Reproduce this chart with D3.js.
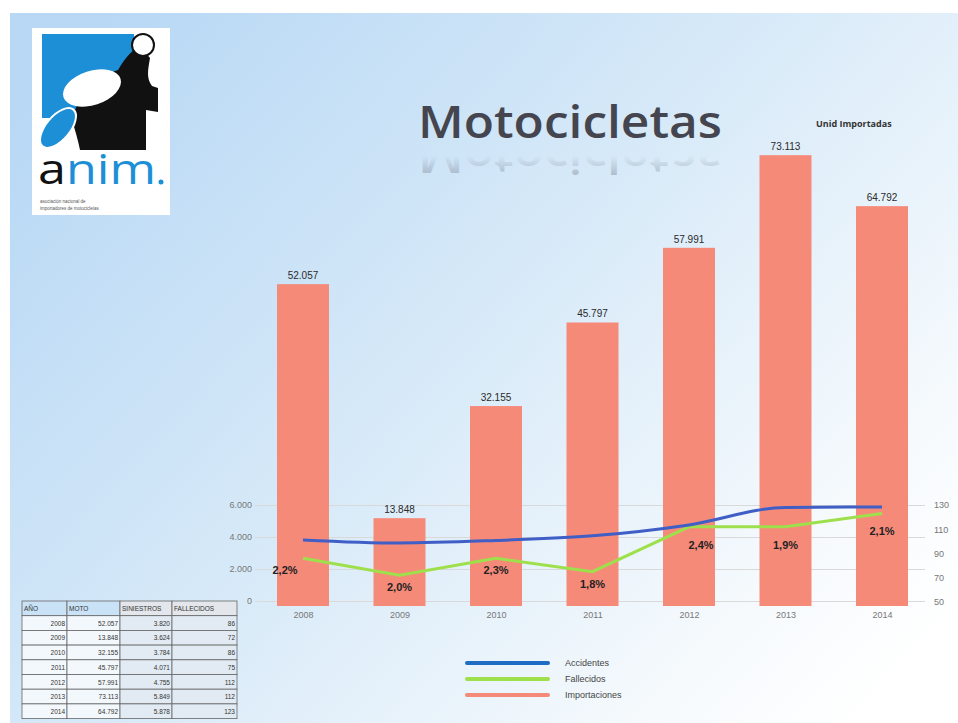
<!DOCTYPE html>
<html lang="es">
<head>
  <meta charset="utf-8">
  <title>Motocicletas</title>
  <script src="https://d3js.org/d3.v7.min.js"></script>
<style>
body { margin: 0; background: #fff; }
svg text { font-family: "Liberation Sans Narrow", "Liberation Sans", sans-serif; }
.axis text { fill: #777; font-size: 9px; }
.grid line { stroke: #d9d9d9; stroke-width: 1; }
.tbl text { font-size: 6.5px; fill: #333; }
</style>
</head>
<body>
<svg width="958" height="723"></svg>
<script>

var years = ["2008", "2009", "2010", "2011", "2012", "2013", "2014"];
var importaciones = [52057, 13848, 32155, 45797, 57991, 73113, 64792];
var accidentes = [3820, 3624, 3784, 4071, 4755, 5849, 5878];
var fallecidos = [86, 72, 86, 75, 112, 112, 123];
var porcentajes = ["2,2%", "2,0%", "2,3%", "1,8%", "2,4%", "1,9%", "2,1%"];
var leftTicks = [0, 2000, 4000, 6000];
var rightTicks = [50, 70, 90, 110, 130];
var seriesNames = ["Accidentes", "Fallecidos", "Importaciones"];
var tableHead = ["AÑO", "MOTO", "SINIESTROS", "FALLECIDOS"];

var colors = { acc: "#3f5fc6", fal: "#9ee04c", imp: "#f68a79" };
var fmt = d3.formatLocale({ decimal: ",", thousands: ".", grouping: [3], currency: ["", ""] }).format(",d");

var svg = d3.select("svg");
var defs = svg.append("defs");

var bg = defs.append("linearGradient").attr("id", "bg")
    .attr("x1", "0").attr("y1", "0.15").attr("x2", "1").attr("y2", "0.85");
bg.append("stop").attr("offset", "0").attr("stop-color", "#b8d8f5");
bg.append("stop").attr("offset", "0.45").attr("stop-color", "#d6e9f8");
bg.append("stop").attr("offset", "0.85").attr("stop-color", "#f6fafd");
bg.append("stop").attr("offset", "1").attr("stop-color", "#ffffff");

var refl = defs.append("linearGradient").attr("id", "refl")
    .attr("x1", "0").attr("y1", "0").attr("x2", "0").attr("y2", "1");
refl.append("stop").attr("offset", "0").attr("stop-color", "#4a4a58").attr("stop-opacity", 0.5);
refl.append("stop").attr("offset", "0.55").attr("stop-color", "#4a4a58").attr("stop-opacity", 0);

svg.append("rect").attr("x", 10).attr("y", 13).attr("width", 948).attr("height", 710)
    .attr("fill", "url(#bg)");

// scales
var x = d3.scalePoint().domain(years).range([303, 882]);
var barW = 52;
var yBar = d3.scaleLinear().domain([0, 80000]).range([603, 113]);
var yLeft = d3.scaleLinear().domain([0, 6000]).range([601, 505]);
var yRight = d3.scaleLinear().domain([50, 130]).range([602, 505]);

// gridlines
svg.append("g").attr("class", "grid")
  .selectAll("line").data(leftTicks).enter().append("line")
    .attr("x1", 255).attr("x2", 925)
    .attr("y1", function(d) { return yLeft(d) + 0.5; })
    .attr("y2", function(d) { return yLeft(d) + 0.5; });

// bars
svg.append("g").selectAll("rect").data(importaciones).enter().append("rect")
    .attr("x", function(d, i) { return x(years[i]) - barW / 2; })
    .attr("y", function(d) { return yBar(d); })
    .attr("width", barW)
    .attr("height", function(d) { return yBar(0) - yBar(d) + 3; })
    .attr("fill", colors.imp);

svg.append("g").selectAll("text").data(importaciones).enter().append("text")
    .attr("x", function(d, i) { return x(years[i]); })
    .attr("y", function(d) { return yBar(d) - 5; })
    .attr("text-anchor", "middle")
    .style("font-size", "10px").style("fill", "#2a2a2a")
    .text(function(d) { return fmt(d); });

// axes
var axL = svg.append("g").attr("class", "axis")
    .attr("transform", "translate(252,0)")
    .call(d3.axisLeft(yLeft).tickValues(leftTicks).tickSize(0).tickPadding(0).tickFormat(fmt));
axL.select(".domain").remove();

var axR = svg.append("g").attr("class", "axis")
    .attr("transform", "translate(934,0)")
    .call(d3.axisRight(yRight).tickValues(rightTicks).tickSize(0).tickPadding(0));
axR.select(".domain").remove();

var axX = svg.append("g").attr("class", "axis")
    .attr("transform", "translate(0,610)")
    .call(d3.axisBottom(x).tickSize(0).tickPadding(0));
axX.select(".domain").remove();
axX.selectAll("text").attr("dy", "0.9em");

// lines
var lineAcc = d3.line()
    .x(function(d, i) { return x(years[i]); })
    .y(function(d) { return yLeft(d); })
    .curve(d3.curveMonotoneX);
var lineFal = d3.line()
    .x(function(d, i) { return x(years[i]); })
    .y(function(d) { return yRight(d); });

svg.append("path").datum(fallecidos).attr("d", lineFal)
    .attr("fill", "none").attr("stroke", colors.fal).attr("stroke-width", 3);
svg.append("path").datum(accidentes).attr("d", lineAcc)
    .attr("fill", "none").attr("stroke", colors.acc).attr("stroke-width", 3);

svg.append("g").selectAll("text").data(porcentajes).enter().append("text")
    .attr("x", function(d, i) { return x(years[i]) + (i === 0 ? -18 : (i === 4 ? 12 : 0)); })
    .attr("y", function(d, i) { return yRight(fallecidos[i]) + (i >= 4 ? 22 : 16); })
    .attr("text-anchor", "middle")
    .style("font-size", "11px").style("font-weight", "bold").style("fill", "#222")
    .text(function(d) { return d; });

// title with reflection
svg.append("text").attr("x", 418).attr("y", -141)
    .attr("transform", "scale(1,-1)")
    .attr("textLength", 304).attr("lengthAdjust", "spacingAndGlyphs")
    .style("font-family", "'Open Sans', sans-serif").style("font-size", "46px").style("font-weight", "600")
    .style("fill", "url(#refl)")
    .text("Motocicletas");
svg.append("text").attr("x", 418).attr("y", 138)
    .attr("textLength", 304).attr("lengthAdjust", "spacingAndGlyphs")
    .style("font-family", "'Open Sans', sans-serif").style("font-size", "46px").style("font-weight", "600")
    .style("fill", "#45454f")
    .text("Motocicletas");

svg.append("text").attr("x", 816).attr("y", 127)
    .style("font-family", "'Open Sans', sans-serif").style("font-size", "9px")
    .style("font-weight", "bold").style("fill", "#333")
    .text("Unid Importadas");

// legend
var legColors = ["#1f6cc4", colors.fal, colors.imp];
var leg = svg.append("g").selectAll("g").data(seriesNames).enter().append("g")
    .attr("transform", function(d, i) { return "translate(467," + (663 + i * 16) + ")"; });
leg.append("line").attr("x1", 0).attr("x2", 81)
    .attr("stroke", function(d, i) { return legColors[i]; })
    .attr("stroke-width", 4).attr("stroke-linecap", "round");
leg.append("text").attr("x", 98).attr("y", 3)
    .style("font-size", "9px").style("fill", "#444")
    .text(function(d) { return d; });

// data table
var tbl = svg.append("g").attr("class", "tbl");
var colX = [22, 67, 120, 172, 237];
var rowH = 14.7, tableTop = 601;
var rows = years.map(function(y, i) { return [y, fmt(importaciones[i]), fmt(accidentes[i]), String(fallecidos[i])]; });
tbl.selectAll(".hd").data(tableHead).enter().append("rect")
    .attr("x", function(d, i) { return colX[i]; }).attr("y", tableTop)
    .attr("width", function(d, i) { return colX[i + 1] - colX[i]; }).attr("height", rowH)
    .attr("fill", function(d, i) { return i < 2 ? "#c9e2f6" : "#e3e6ea"; })
    .attr("stroke", "#666").attr("stroke-width", 0.8);
tbl.selectAll(".ht").data(tableHead).enter().append("text")
    .attr("x", function(d, i) { return colX[i] + 2; }).attr("y", tableTop + 10)
    .text(function(d) { return d; });
rows.forEach(function(r, ri) {
  var yy = tableTop + rowH * (ri + 1);
  r.forEach(function(v, ci) {
    tbl.append("rect").attr("x", colX[ci]).attr("y", yy)
      .attr("width", colX[ci + 1] - colX[ci]).attr("height", rowH)
      .attr("fill", ci < 2 ? "#f3f8fc" : "#e2ebf3")
      .attr("stroke", "#666").attr("stroke-width", 0.8);
    tbl.append("text").attr("x", colX[ci + 1] - 2).attr("y", yy + 10)
      .attr("text-anchor", "end").text(v);
  });
});

// logo
var logo = svg.append("g");
logo.append("rect").attr("x", 32).attr("y", 28).attr("width", 138).attr("height", 187).attr("fill", "#fff");
logo.append("rect").attr("x", 42).attr("y", 34).attr("width", 92).attr("height", 84).attr("fill", "#1d8fd6");
logo.append("path")
    .attr("d", "M72,120 C78,95 95,78 118,70 C125,58 132,50 140,46 L150,58 C148,70 146,78 152,86 L158,88 L158,112 L146,110 L146,150 L80,150 C78,140 75,130 72,120 Z")
    .attr("fill", "#111");
logo.append("ellipse").attr("cx", 92).attr("cy", 88).attr("rx", 30).attr("ry", 17)
    .attr("transform", "rotate(-18,92,88)").attr("fill", "#fff");
logo.append("ellipse").attr("cx", 58).attr("cy", 128).attr("rx", 24).attr("ry", 12)
    .attr("transform", "rotate(-50,58,128)").attr("fill", "#1d8fd6").attr("stroke", "#fff").attr("stroke-width", 2);
logo.append("circle").attr("cx", 143).attr("cy", 45).attr("r", 11)
    .attr("fill", "#fff").attr("stroke", "#111").attr("stroke-width", 2);
var anim = logo.append("text").attr("x", 38).attr("y", 184)
    .attr("textLength", 118).attr("lengthAdjust", "spacingAndGlyphs")
    .style("font-family", "'Open Sans', sans-serif").style("font-size", "42px");
anim.append("tspan").attr("fill", "#111").text("a");
anim.append("tspan").attr("fill", "#1d8fd6").text("nim");
logo.append("circle").attr("cx", 161).attr("cy", 182).attr("r", 2.5).attr("fill", "#1d8fd6");
logo.append("text").attr("x", 40).attr("y", 203).style("font-size", "4.5px").style("fill", "#555")
    .text("asociación nacional de");
logo.append("text").attr("x", 40).attr("y", 210).style("font-size", "4.5px").style("fill", "#555")
    .text("importadores de motocicletas");

</script>
</body>
</html>
